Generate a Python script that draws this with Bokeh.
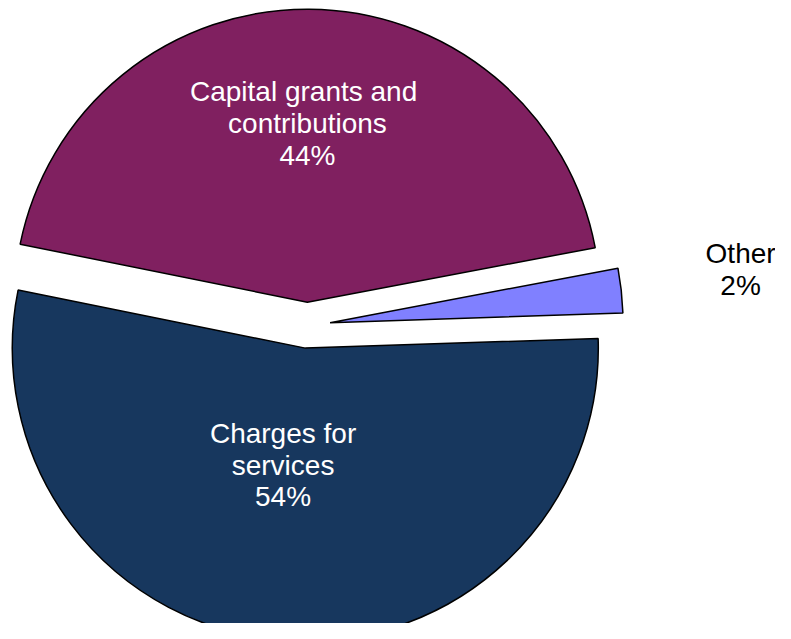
import numpy as np
from bokeh.plotting import figure
from bokeh.models import Range1d, ColumnDataSource
from bokeh.core.properties import value
from bokeh.embed import file_html
from bokeh.resources import INLINE

# ---- data ----
categories = ["Other", "Capital  grants and\ncontributions", "Charges for\nservices"]
values = [2.45, 43.85, 53.7]
colors = ["#8080FF", "#802060", "#17375E"]
label_colors = ["black", "white", "white"]

# ---- layout ----
W, H = 775, 623
CX, CY = 306.7, -324.7      # pie centre (pixels, y flipped)
R = 293                      # radius
EXPLODE = 23                 # explosion distance
START_DEG = 1.9              # angle where the first slice starts
label_dist = [414, 179, 119]
label_nudge_deg = [1.1, 0.3, -6.0]

vals = np.array(values, dtype=float)
frac = vals / vals.sum()
ends = np.deg2rad(START_DEG) + 2 * np.pi * np.cumsum(frac)
starts = ends - 2 * np.pi * frac
mids = (starts + ends) / 2
xs = CX + EXPLODE * np.cos(mids)
ys = CY + EXPLODE * np.sin(mids)
pct = [f"{round(f * 100):.0f}%" for f in frac]
texts = [f"{c}\n{p}" for c, p in zip(categories, pct)]
la = mids + np.deg2rad(label_nudge_deg)
lx = xs + np.array(label_dist) * np.cos(la)
ly = ys + np.array(label_dist) * np.sin(la)

src = ColumnDataSource(dict(x=xs, y=ys, start=starts, end=ends, color=colors))
lsrc = ColumnDataSource(dict(x=lx, y=ly, text=texts, color=label_colors))

p = figure(width=W, height=H, output_backend="svg", toolbar_location=None,
           x_range=Range1d(0, W), y_range=Range1d(-H, 0),
           min_border=0, outline_line_color=None,
           background_fill_color="white", border_fill_color="white")
p.axis.visible = False
p.grid.visible = False

p.wedge(x="x", y="y", radius=R, start_angle="start", end_angle="end",
        fill_color="color", line_color="black", line_width=1.5, source=src)
p.text(x="x", y="y", text="text", text_color="color", source=lsrc,
       text_align="center", text_baseline="middle",
       text_font=value("Liberation Sans"), text_font_size="28px",
       text_line_height=1.03)

open("out.html", "w").write(file_html(p, INLINE))
